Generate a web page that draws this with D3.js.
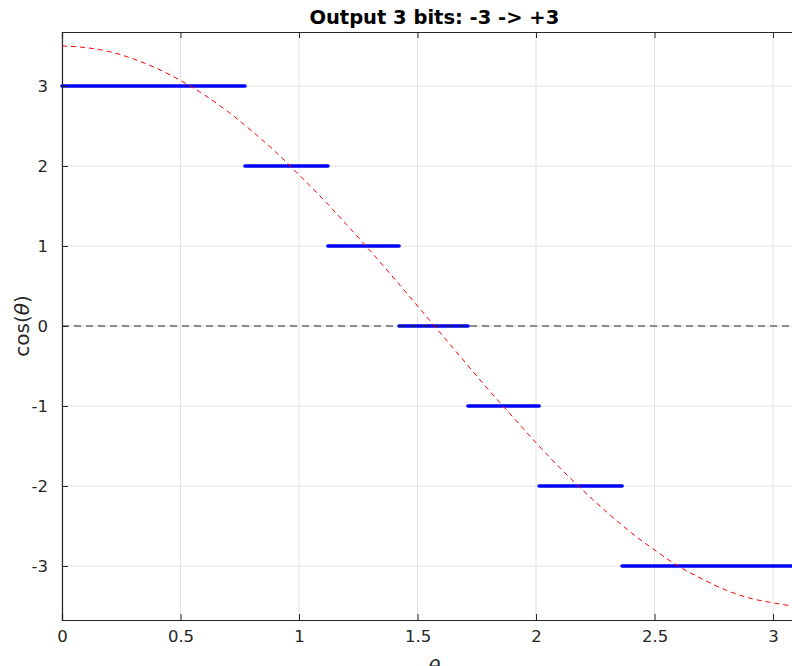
<!DOCTYPE html>
<html>
<head>
<meta charset="utf-8">
<script src="https://cdn.jsdelivr.net/npm/d3@7"></script>
<style>
  body { margin: 0; background: #fff; }
  svg { display: block; font-family: "DejaVu Sans", sans-serif; }
</style>
</head>
<body>
<svg width="792" height="666"></svg>
<script>
// quantized output levels and where each one starts / ends (theta)
var levels = [3, 2, 1, 0, -1, -2, -3];
var segStart = [0, 0.772, 1.122, 1.422, 1.713, 2.013, 2.363];
var segEnd = [0.772, 1.122, 1.422, 1.713, 2.013, 2.363, 3.1416];

// scaled cosine
var thetas = [0, 0.1, 0.2, 0.3, 0.4, 0.5, 0.6, 0.7, 0.8, 0.9, 1.0, 1.1, 1.2, 1.3, 1.4, 1.5,
  1.6, 1.7, 1.8, 1.9, 2.0, 2.1, 2.2, 2.3, 2.4, 2.5, 2.6, 2.7, 2.8, 2.9, 3.0, 3.1, 3.1416];
var cosVals = [3.5, 3.48, 3.43, 3.34, 3.22, 3.07, 2.89, 2.68, 2.44, 2.18, 1.89, 1.59, 1.27, 0.94, 0.6, 0.25,
  -0.1, -0.45, -0.8, -1.13, -1.46, -1.77, -2.06, -2.33, -2.58, -2.8, -3.0, -3.16, -3.3, -3.4, -3.46, -3.5, -3.5];

var xTicks = [0, 0.5, 1, 1.5, 2, 2.5, 3];
var yTicks = [-3, -2, -1, 0, 1, 2, 3];

var svg = d3.select("svg");
var m = {left: 62, top: 32, right: 806.6, bottom: 620};

var x = d3.scaleLinear().domain([0, Math.PI]).range([m.left, m.right]);
var y = d3.scaleLinear().domain([-3.675, 3.675]).range([m.bottom, m.top]);

var axisCol = "#262626";

// grid
var grid = svg.append("g");
grid.selectAll(".gx").data(xTicks).enter().append("line")
  .attr("x1", d => x(d)).attr("x2", d => x(d))
  .attr("y1", m.top).attr("y2", m.bottom)
  .attr("stroke", "#e3e3e3");
grid.selectAll(".gy").data(yTicks).enter().append("line")
  .attr("x1", m.left).attr("x2", m.right)
  .attr("y1", d => y(d)).attr("y2", d => y(d))
  .attr("stroke", "#e3e3e3");

var plot = svg.append("g");

// blue quantized segments
plot.selectAll(".seg").data(levels).enter().append("line")
  .attr("x1", (d, i) => x(segStart[i]))
  .attr("x2", (d, i) => x(segEnd[i]))
  .attr("y1", d => y(d)).attr("y2", d => y(d))
  .attr("stroke", "#0000ff")
  .attr("stroke-width", 3.6)
  .attr("stroke-linecap", "round");

// zero reference line
plot.append("line")
  .attr("x1", x(0)).attr("x2", m.right)
  .attr("y1", y(0)).attr("y2", y(0))
  .attr("stroke", "#262626")
  .attr("stroke-width", 1.1)
  .attr("stroke-dasharray", "7,5");

// red cosine
var line = d3.line()
  .x((d, i) => x(thetas[i]))
  .y(d => y(d))
  .curve(d3.curveMonotoneX);
plot.append("path")
  .datum(cosVals)
  .attr("d", line)
  .attr("fill", "none")
  .attr("stroke", "#ff0000")
  .attr("stroke-width", 1)
  .attr("stroke-dasharray", "5,4");

// axes (MATLAB-like: ticks inside, box on top)
var xAx = svg.append("g").attr("transform", "translate(0," + m.bottom + ")")
  .call(d3.axisBottom(x).tickValues(xTicks).tickSize(-6).tickPadding(10)
    .tickFormat(d => d));
var xTop = svg.append("g").attr("transform", "translate(0," + m.top + ")")
  .call(d3.axisTop(x).tickValues(xTicks).tickSize(-6).tickFormat(""));
var yAx = svg.append("g").attr("transform", "translate(" + m.left + ",0)")
  .call(d3.axisLeft(y).tickValues(yTicks).tickSize(-6).tickPadding(14)
    .tickFormat(d => d));

[xAx, xTop, yAx].forEach(function (g) {
  g.select(".domain").attr("stroke", axisCol).attr("stroke-width", 1.2);
  g.selectAll(".tick line").attr("stroke", axisCol);
  g.selectAll(".tick text").attr("fill", axisCol)
    .attr("font-size", "16.5px").attr("font-family", "DejaVu Sans, sans-serif");
});

// title and labels
svg.append("text")
  .attr("x", (m.left + m.right) / 2).attr("y", 24)
  .attr("text-anchor", "middle")
  .attr("font-weight", "bold")
  .attr("font-size", "19.5px")
  .attr("fill", "#000")
  .text("Output 3 bits: -3 -> +3");

svg.append("text")
  .attr("x", (m.left + m.right) / 2).attr("y", 674)
  .attr("text-anchor", "middle")
  .attr("font-size", "20px")
  .attr("font-style", "italic")
  .attr("fill", axisCol)
  .text("θ");

var yl = svg.append("text")
  .attr("transform", "translate(29," + y(0) + ") rotate(-90)")
  .attr("text-anchor", "middle")
  .attr("font-size", "20px")
  .attr("fill", axisCol);
yl.append("tspan").text("cos(");
yl.append("tspan").attr("font-style", "italic").text("θ");
yl.append("tspan").text(")");
</script>
</body>
</html>
